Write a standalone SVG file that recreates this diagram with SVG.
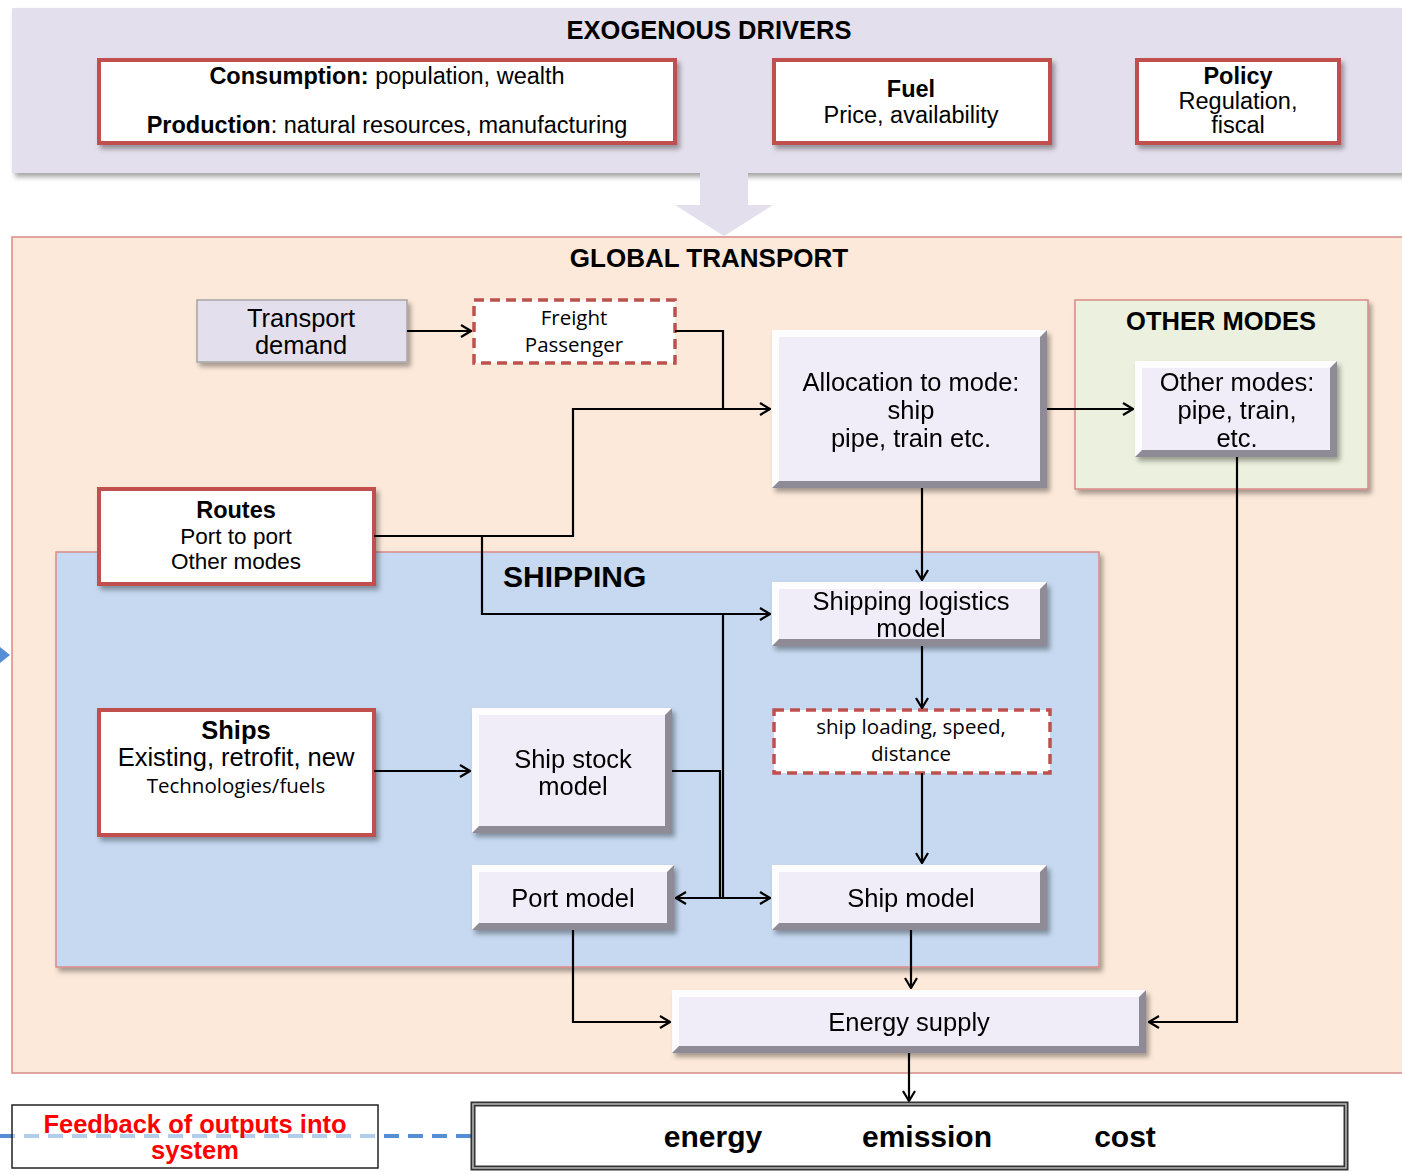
<svg xmlns="http://www.w3.org/2000/svg" width="1402" height="1174" viewBox="0 0 1402 1174">
<style>
.t{font-family:"Liberation Sans",Arial,sans-serif;font-size:25.5px;fill:#000;text-anchor:middle}
.t22{font-family:"Liberation Sans",Arial,sans-serif;font-size:23.5px;fill:#000;text-anchor:middle}
.b{font-weight:bold}
.c{font-family:"Open Sans","Noto Sans",sans-serif;font-size:20.5px;fill:#000;text-anchor:middle}
.ttl{font-family:"Liberation Sans",Arial,sans-serif;font-size:25.5px;font-weight:bold;fill:#000;text-anchor:middle}
.red{fill:#fff;stroke:#C0504D;stroke-width:4}
.dash{fill:#fff;stroke:#C0504D;stroke-width:3.5;stroke-dasharray:10 6}
.bvd{fill:#8E8A96}
.bvl{fill:#FDFCFF}
.face{fill:#F1EDF8}
.con{fill:none;stroke:#000;stroke-width:2.2}
.out{font-family:"Liberation Sans",Arial,sans-serif;font-size:30px;font-weight:bold;fill:#000;text-anchor:middle}
</style>
<defs>
<filter id="sh" x="-5%" y="-10%" width="115%" height="135%">
<feDropShadow dx="3" dy="4" stdDeviation="2.5" flood-color="#000" flood-opacity="0.35"/>
</filter>
<marker id="arr" viewBox="0 0 12 14" refX="11" refY="7" markerWidth="12" markerHeight="14" markerUnits="userSpaceOnUse" orient="auto-start-reverse">
<path d="M1,1 L11,7 L1,13" fill="none" stroke="#000" stroke-width="2.2"/>
</marker>
</defs>

<!-- Exogenous drivers band -->
<g id="exogenous">
<rect x="12" y="8" width="1400" height="165" fill="#E4DFEC" filter="url(#sh)"/>
<text class="ttl" x="709" y="39">EXOGENOUS DRIVERS</text>
</g>
<g id="consumption">
<rect class="red" x="99" y="60" width="576" height="83" filter="url(#sh)"/>
<text class="t22" x="387" y="84"><tspan class="b">Consumption:</tspan> population, wealth</text>
<text class="t22" x="387" y="133"><tspan class="b">Production</tspan>: natural resources, manufacturing</text>
</g>
<g id="fuel">
<rect class="red" x="774" y="60" width="276" height="83" filter="url(#sh)"/>
<text class="t22 b" x="911" y="97">Fuel</text>
<text class="t22" x="911" y="123">Price, availability</text>
</g>
<g id="policy">
<rect class="red" x="1137" y="60" width="202" height="83" filter="url(#sh)"/>
<text class="t22 b" x="1238" y="84">Policy</text>
<text class="t22" x="1238" y="109">Regulation,</text>
<text class="t22" x="1238" y="133">fiscal</text>
</g>
<g id="bigarrow">
<path d="M700,173 H748 V205 H773 L724,236 L675,205 H700 Z" fill="#E4DFEC"/>
</g>

<!-- Global transport -->
<g id="global-transport">
<rect x="12" y="237" width="1400" height="836" fill="#FDE9D9" stroke="#D98A88" stroke-width="1.5"/>
<text class="ttl" x="709" y="267" style="font-size:26px">GLOBAL TRANSPORT</text>
</g>
<g id="other-modes-group">
<rect x="1075" y="300" width="293" height="189" fill="#EBF1DE" stroke="#D98A88" stroke-width="1.5" filter="url(#sh)"/>
<text class="ttl" x="1221" y="330">OTHER MODES</text>
</g>
<g id="shipping">
<rect x="56" y="552" width="1043" height="415" fill="#C6D9F1" stroke="#D98A88" stroke-width="1.5" filter="url(#sh)"/>
<text x="503" y="587" font-family="Liberation Sans, Arial, sans-serif" font-size="30" font-weight="bold" fill="#000">SHIPPING</text>
</g>

<g id="transport-demand">
<rect x="197" y="300" width="210" height="62" fill="#E4DFEC" stroke="#A6A6A6" stroke-width="1.5" filter="url(#sh)"/>
<text class="t" x="301" y="327">Transport</text>
<text class="t" x="301" y="354">demand</text>
</g>
<g id="freight-passenger">
<rect class="dash" x="474" y="300" width="201" height="63"/>
<text class="c" x="574" y="325">Freight</text>
<text class="c" x="574" y="352">Passenger</text>
</g>
<g id="allocation" filter="url(#sh)">
<rect class="bvd" x="772" y="330" width="275" height="158"/>
<path class="bvl" d="M772,330 H1047 L1040,337 H779 V481 L772,488 Z"/>
<rect class="face" x="779" y="337" width="261" height="144"/>
<text class="t" x="911" y="391">Allocation to mode:</text>
<text class="t" x="911" y="419">ship</text>
<text class="t" x="911" y="447">pipe, train etc.</text>
</g>
<g id="other-modes" filter="url(#sh)">
<rect class="bvd" x="1135" y="361" width="202" height="96"/>
<path class="bvl" d="M1135,361 H1337 L1330,368 H1142 V450 L1135,457 Z"/>
<rect class="face" x="1142" y="368" width="188" height="82"/>
<text class="t" x="1237" y="391">Other modes:</text>
<text class="t" x="1237" y="419">pipe, train,</text>
<text class="t" x="1237" y="447">etc.</text>
</g>
<g id="routes">
<rect class="red" x="99" y="489" width="275" height="95" filter="url(#sh)"/>
<text class="t22 b" x="236" y="518">Routes</text>
<text class="t22" x="236" y="544" style="font-size:22.5px">Port to port</text>
<text class="t22" x="236" y="569" style="font-size:22.5px">Other modes</text>
</g>
<g id="shipping-logistics" filter="url(#sh)">
<rect class="bvd" x="772" y="582" width="275" height="64"/>
<path class="bvl" d="M772,582 H1047 L1040,589 H779 V639 L772,646 Z"/>
<rect class="face" x="779" y="589" width="261" height="50"/>
<text class="t" x="911" y="610">Shipping logistics</text>
<text class="t" x="911" y="637">model</text>
</g>
<g id="ship-loading">
<rect class="dash" x="774" y="710" width="276" height="63"/>
<text class="c" x="911" y="734">ship loading, speed,</text>
<text class="c" x="911" y="761">distance</text>
</g>
<g id="ships">
<rect class="red" x="99" y="710" width="275" height="125" filter="url(#sh)"/>
<text class="t b" x="236" y="739">Ships</text>
<text class="t" x="236" y="766">Existing, retrofit, new</text>
<text class="c" x="236" y="793" style="font-size:20.5px">Technologies/fuels</text>
</g>
<g id="ship-stock" filter="url(#sh)">
<rect class="bvd" x="472" y="708" width="200" height="125"/>
<path class="bvl" d="M472,708 H672 L665,715 H479 V826 L472,833 Z"/>
<rect class="face" x="479" y="715" width="186" height="111"/>
<text class="t" x="573" y="768">Ship stock</text>
<text class="t" x="573" y="795">model</text>
</g>
<g id="port-model" filter="url(#sh)">
<rect class="bvd" x="472" y="865" width="202" height="65"/>
<path class="bvl" d="M472,865 H674 L667,872 H479 V923 L472,930 Z"/>
<rect class="face" x="479" y="872" width="188" height="51"/>
<text class="t" x="573" y="907">Port model</text>
</g>
<g id="ship-model" filter="url(#sh)">
<rect class="bvd" x="772" y="865" width="275" height="65"/>
<path class="bvl" d="M772,865 H1047 L1040,872 H779 V923 L772,930 Z"/>
<rect class="face" x="779" y="872" width="261" height="51"/>
<text class="t" x="911" y="907">Ship model</text>
</g>
<g id="energy-supply" filter="url(#sh)">
<rect class="bvd" x="672" y="990" width="474" height="63"/>
<path class="bvl" d="M672,990 H1146 L1139,997 H679 V1046 L672,1053 Z"/>
<rect class="face" x="679" y="997" width="460" height="49"/>
<text class="t" x="909" y="1031">Energy supply</text>
</g>

<!-- Connectors -->
<g id="connectors">
<path class="con" d="M407,331 H471" marker-end="url(#arr)"/>
<path class="con" d="M675,331 H723 V409 H770" marker-end="url(#arr)"/>
<path class="con" d="M374,536 H573 V409 H723"/>
<path class="con" d="M482,536 V614 H770" marker-end="url(#arr)"/>
<path class="con" d="M723,614 V898"/>
<path class="con" d="M672,771 H720 V898"/>
<path class="con" d="M676,898 H770" marker-start="url(#arr)" marker-end="url(#arr)"/>
<path class="con" d="M922,488 V580" marker-end="url(#arr)"/>
<path class="con" d="M922,646 V708" marker-end="url(#arr)"/>
<path class="con" d="M922,773 V863" marker-end="url(#arr)"/>
<path class="con" d="M374,771 H470" marker-end="url(#arr)"/>
<path class="con" d="M1047,409 H1133" marker-end="url(#arr)"/>
<path class="con" d="M1237,457 V1022 H1149" marker-end="url(#arr)"/>
<path class="con" d="M573,930 V1022 H670" marker-end="url(#arr)"/>
<path class="con" d="M911,930 V988" marker-end="url(#arr)"/>
<path class="con" d="M909,1053 V1101" marker-end="url(#arr)"/>
<path d="M0,1136 H472" fill="none" stroke="#558ED5" stroke-width="4" stroke-dasharray="15 9"/>
<path d="M0,647 L10,655 L0,663 Z" fill="#558ED5"/>
</g>

<g id="feedback">
<rect x="12" y="1105" width="366" height="63" fill="#fff" fill-opacity="0.55" stroke="#222" stroke-width="1.5"/>
<text x="195" y="1133" font-family="Liberation Sans, Arial, sans-serif" font-size="25.5" font-weight="bold" fill="#FF0000" text-anchor="middle">Feedback of outputs into</text>
<text x="195" y="1159" font-family="Liberation Sans, Arial, sans-serif" font-size="25.5" font-weight="bold" fill="#FF0000" text-anchor="middle">system</text>
</g>
<g id="outputs">
<rect x="473" y="1104" width="873" height="64" fill="#fff" stroke="#333" stroke-width="5"/>
<rect x="473" y="1104" width="873" height="64" fill="none" stroke="#bbb" stroke-width="1.5"/>
<text class="out" x="713" y="1147">energy</text>
<text class="out" x="927" y="1147">emission</text>
<text class="out" x="1125" y="1147">cost</text>
</g>
</svg>
